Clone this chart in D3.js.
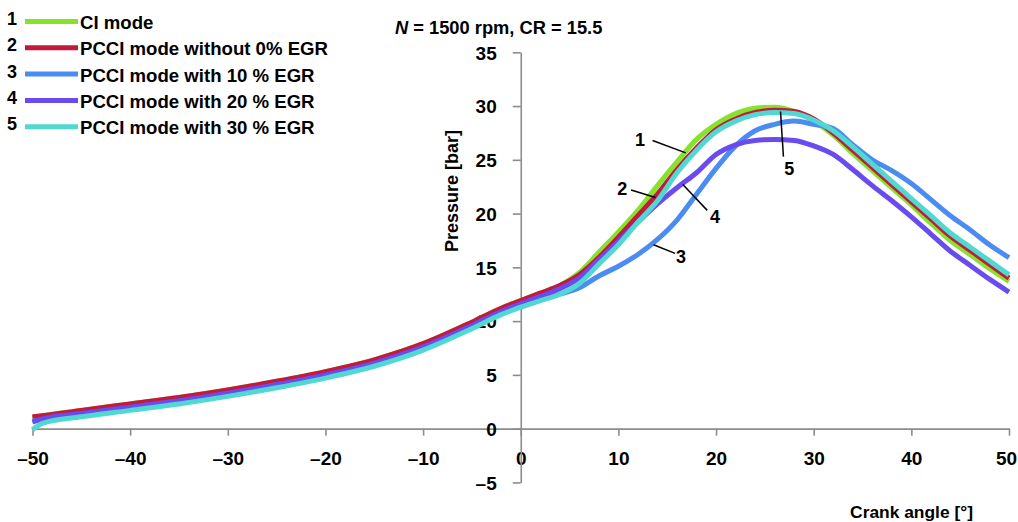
<!DOCTYPE html>
<html>
<head>
<meta charset="utf-8">
<script src="https://cdn.jsdelivr.net/npm/d3@7"></script>
<style>
  body { margin: 0; background: #fff; }
  text { font-family: "Liberation Sans", Arial, sans-serif; font-weight: bold; fill: #000; }
</style>
</head>
<body>
<div id="chart"></div>
<script>
const width = 1018;
const height = 522;

// crank angle grid (deg)
const angles = [-50,-49,-45,-40,-35,-30,-25,-20,-15,-10,-5,-2,0,2,4,6,8,10,12,14,16,18,20,22,24,26,28,30,32,34,36,38,40,42,44,46,48,50];

// pressure [bar]
const ciMode = [1.0,1.2,1.7,2.3,2.9,3.6,4.4,5.3,6.4,7.9,9.9,11.2,11.9,12.6,13.3,14.5,16.4,18.3,20.3,22.6,24.8,26.9,28.3,29.3,29.8,29.9,29.5,28.6,27.3,25.6,24.0,22.4,20.8,19.1,17.5,16.2,14.9,13.7];
const egr0   = [1.1,1.2,1.7,2.3,2.9,3.6,4.4,5.3,6.4,7.9,9.9,11.2,11.9,12.6,13.3,14.3,15.9,17.8,19.8,21.8,24.1,26.1,27.8,28.8,29.4,29.6,29.5,28.8,27.5,25.9,24.3,22.7,21.1,19.5,17.9,16.6,15.3,14.0];
const egr10  = [0.7,0.8,1.3,1.9,2.5,3.2,4.0,4.9,6.0,7.5,9.5,10.8,11.5,12.0,12.5,13.1,14.2,15.1,16.2,17.6,19.4,21.8,24.2,26.3,27.7,28.3,28.6,28.3,27.9,26.4,25.0,24.0,22.8,21.3,19.8,18.5,17.1,15.9];
const egr20  = [0.6,0.9,1.4,2.0,2.6,3.3,4.1,5.0,6.1,7.6,9.6,10.9,11.6,12.3,13.0,14.0,15.7,17.4,19.2,20.9,22.4,23.8,25.5,26.4,26.8,26.9,26.8,26.3,25.5,24.1,22.6,21.2,19.7,18.1,16.5,15.2,13.9,12.7];
const egr30  = [-0.1,0.5,1.1,1.7,2.3,3.0,3.8,4.7,5.8,7.3,9.3,10.6,11.3,11.9,12.5,13.5,15.3,17.1,19.2,21.2,23.8,25.9,27.6,28.6,29.2,29.4,29.3,28.7,27.7,26.2,24.6,23.0,21.4,19.8,18.2,16.9,15.6,14.3];

const seriesNames = ['CI mode','PCCI mode without 0% EGR','PCCI mode with 10 % EGR','PCCI mode with 20 % EGR','PCCI mode with 30 % EGR'];
const seriesNums = ['1','2','3','4','5'];
const seriesColors = ['#86e22c','#c21a3c','#4a8cf2','#6a4cee','#52d8d2'];
const seriesValues = [ciMode, egr0, egr10, egr20, egr30];

const xTicks = [-50,-40,-30,-20,-10,0,10,20,30,40,50];
const yTicks = [-5,0,5,10,15,20,25,30,35];

// callout labels: [label, textX, textY, lineX1, lineY1, lineX2, lineY2] in data units
const callouts = [
  ['1', 12.2, 26.9, 13.5, 26.8, 16.9, 25.65],
  ['2', 10.4, 22.3, 11.3, 22.2, 13.8, 21.5],
  ['3', 16.4, 16.0, 13.6, 17.1, 15.8, 16.3],
  ['4', 19.9, 19.7, 16.6, 22.7, 19.1, 20.3],
  ['5', 27.5, 24.2, 26.6, 29.5, 26.9, 25.3]
];

const x = d3.scaleLinear().domain([-50, 50]).range([32.5, 1009]);
const y = d3.scaleLinear().domain([-5, 35]).range([482.4, 52.3]);

const svg = d3.select('#chart').append('svg')
  .attr('width', width)
  .attr('height', height);

// axes
const fmt = d => (d < 0 ? '\u2013' + Math.abs(d) : '' + d);

const xAxis = svg.append('g')
  .attr('transform', `translate(0,${y(0)})`)
  .call(d3.axisBottom(x).tickValues(xTicks).tickSize(7).tickSizeOuter(0).tickFormat(fmt));

const yAxis = svg.append('g')
  .attr('transform', `translate(${x(0)},0)`)
  .call(d3.axisLeft(y).tickValues(yTicks).tickSize(8).tickSizeOuter(0).tickFormat(fmt));

[xAxis, yAxis].forEach(g => {
  g.selectAll('path, line').attr('stroke', '#8c8c8c').attr('stroke-width', 1.6);
  g.selectAll('text').style('font-size', '19px').attr('fill', '#000');
});
xAxis.selectAll('text').attr('y', 23).attr('dy', '0.71em');
// last label sits against the right edge
xAxis.selectAll('.tick').filter(d => d === 50).select('text').attr('x', -3);
yAxis.selectAll('text').attr('x', -24).attr('dy', '0.36em');

// curves
const line = d3.line()
  .x((d, i) => x(angles[i]))
  .y(d => y(d))
  .curve(d3.curveMonotoneX);

svg.selectAll('path.curve')
  .data(seriesValues)
  .join('path')
  .attr('class', 'curve')
  .attr('fill', 'none')
  .attr('stroke', (d, i) => seriesColors[i])
  .attr('stroke-width', 5)
  .attr('stroke-linejoin', 'round')
  .attr('d', line);

// callouts
svg.selectAll('line.callout')
  .data(callouts)
  .join('line')
  .attr('class', 'callout')
  .attr('stroke', '#000')
  .attr('stroke-width', 1.5)
  .attr('x1', d => x(d[3]))
  .attr('y1', d => y(d[4]))
  .attr('x2', d => x(d[5]))
  .attr('y2', d => y(d[6]));

svg.selectAll('text.callout')
  .data(callouts)
  .join('text')
  .attr('class', 'callout')
  .attr('x', d => x(d[1]))
  .attr('y', d => y(d[2]))
  .attr('dy', '0.36em')
  .attr('text-anchor', 'middle')
  .style('font-size', '18px')
  .text(d => d[0]);

// legend
const legend = svg.append('g');
const rowY = i => 21.5 + i * 26.3;
legend.selectAll('line')
  .data(seriesNames)
  .join('line')
  .attr('x1', 25).attr('x2', 78)
  .attr('y1', (d, i) => rowY(i)).attr('y2', (d, i) => rowY(i))
  .attr('stroke', (d, i) => seriesColors[i])
  .attr('stroke-width', 5);
legend.selectAll('text.num')
  .data(seriesNums)
  .join('text')
  .attr('class', 'num')
  .attr('x', 7)
  .attr('y', (d, i) => rowY(i) + 3.5)
  .style('font-size', '18px')
  .text(d => d);
legend.selectAll('text.name')
  .data(seriesNames)
  .join('text')
  .attr('class', 'name')
  .attr('x', 80)
  .attr('y', (d, i) => rowY(i) + 7.5)
  .style('font-size', '18.6px')
  .text(d => d);

// title
const title = svg.append('text')
  .attr('x', 395)
  .attr('y', 33.5)
  .style('font-size', '18.3px');
title.append('tspan').style('font-style', 'italic').text('N');
title.append('tspan').text(' = 1500 rpm, CR = 15.5');

// axis titles
svg.append('text')
  .attr('transform', `translate(458,191) rotate(-90)`)
  .attr('text-anchor', 'middle')
  .style('font-size', '18px')
  .text('Pressure [bar]');

svg.append('text')
  .attr('x', 973)
  .attr('y', 518)
  .attr('text-anchor', 'end')
  .style('font-size', '17.4px')
  .text('Crank angle [°]');
</script>
</body>
</html>
